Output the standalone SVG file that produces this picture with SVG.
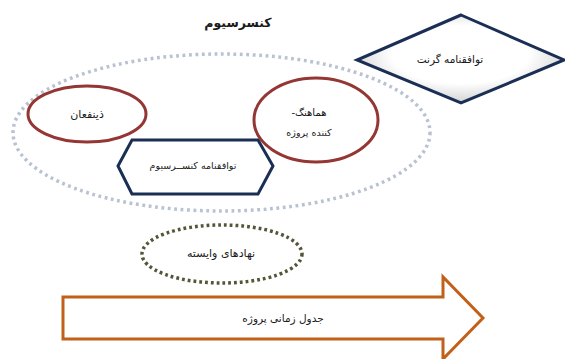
<svg xmlns="http://www.w3.org/2000/svg" width="565" height="359" viewBox="0 0 565 359">
<style>
text{font-family:"DejaVu Sans","Noto Sans",sans-serif;fill:#1a1a1a;text-anchor:middle;direction:rtl}
.red{fill:#fff;stroke:#943634;stroke-width:3}
.navy{fill:#fff;stroke:#1b2f55;stroke-width:3;stroke-linejoin:miter}
.dotsL{fill:none;stroke:#b9c2d0;stroke-width:3.5;stroke-dasharray:2.8 3.6}
.dotsD{fill:none;stroke:#55553a;stroke-width:3.5;stroke-dasharray:2.8 3}
.arrow{fill:#fff;stroke:#c2601a;stroke-width:3}
</style>
<defs>
<radialGradient id="dg" cx="0.5" cy="0.45" r="0.6">
<stop offset="0.55" stop-color="#ffffff"/>
<stop offset="1" stop-color="#c8c8c8"/>
</radialGradient>
</defs>
<rect width="565" height="359" fill="#fff"/>
<text x="238" y="27" font-size="12.5" font-weight="bold">کنسرسیوم</text>
<g id="consortium">
<ellipse class="dotsL" cx="221.5" cy="132.5" rx="208.5" ry="78.5"/>
</g>
<g id="grant">
<polygon points="461,15 564,60 461,103 357,60" fill="url(#dg)" stroke="#1b2f55" stroke-width="3"/>
<text x="450" y="63" font-size="10.5">توافقنامه گرنت</text>
</g>
<g id="stakeholders">
<ellipse class="red" cx="87" cy="114" rx="59" ry="28"/>
<text x="87" y="118" font-size="11">ذینفعان</text>
</g>
<g id="coordinator">
<ellipse class="red" cx="316" cy="120" rx="62" ry="42"/>
<text x="309" y="116" font-size="10">هماهنگ-</text>
<text x="309" y="136" font-size="9.5">کننده پروژه</text>
</g>
<g id="consortiumAgreement">
<polygon class="navy" points="118,166 132,140 258,140 273,166 258,194 132,194"/>
<text x="193" y="169" font-size="9.5">توافقنامه کنســرسیوم</text>
</g>
<g id="affiliates">
<ellipse class="dotsD" cx="222" cy="254" rx="80" ry="29"/>
<text x="221" y="257" font-size="11">نهادهای وایسته</text>
</g>
<g id="schedule">
<polygon class="arrow" points="63,297 443,297 443,277 483,318 443,359 443,339 63,339"/>
<text x="283" y="322" font-size="10.5">جدول زمانی پروژه</text>
</g>
<g id="connectors"></g>
</svg>
